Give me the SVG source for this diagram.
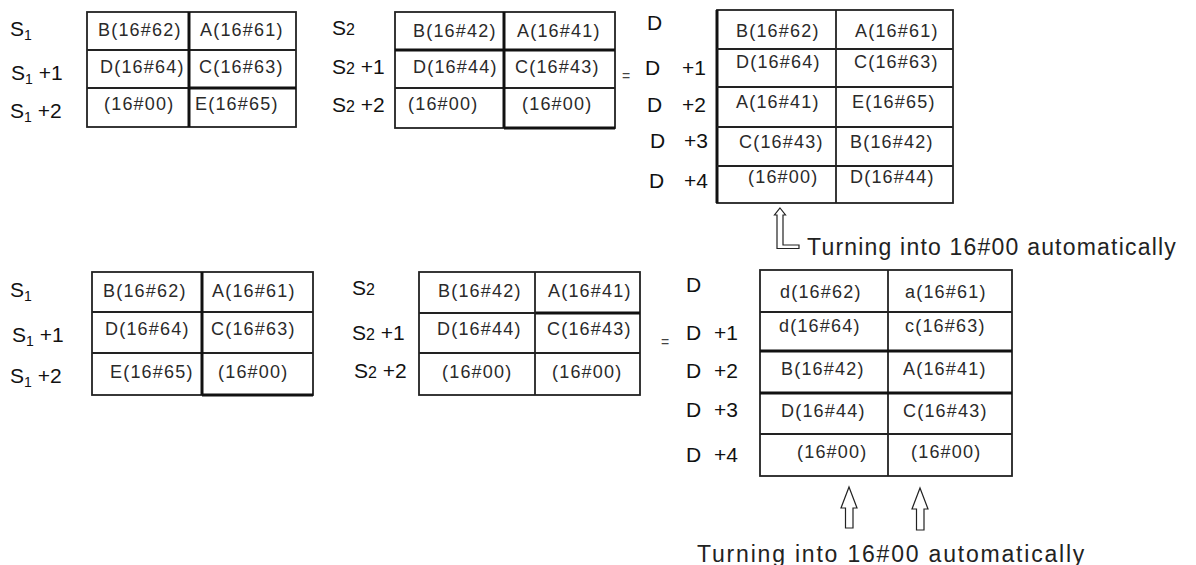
<svg xmlns="http://www.w3.org/2000/svg" width="1196" height="565" viewBox="0 0 1196 565">
<style>
.bg{fill:#fff}
.ln{stroke:#222;stroke-width:1.8;fill:none}
.tk{stroke:#111;stroke-width:3;fill:none}
.cell{font-family:"Liberation Sans",Arial,sans-serif;font-size:18px;letter-spacing:1.2px;fill:#2a2a2a}
.lbl{font-family:"Liberation Sans",Arial,sans-serif;font-size:21px;fill:#111}
.sub{font-size:14px}
.sm{font-size:16px}
.eq{font-family:"Liberation Sans",Arial,sans-serif;font-size:14px;fill:#444}
.note{font-family:"Liberation Sans",Arial,sans-serif;font-size:23px;fill:#222}
.arr{fill:#fff;stroke:#222;stroke-width:1.2}
</style>
<rect class="bg" width="1196" height="565"/>

<!-- Top S1 -->
<g id="top-s1">
<rect class="ln" x="87" y="12" width="209" height="115"/>
<line class="ln" x1="87" y1="50" x2="296" y2="50"/>
<line class="ln" x1="87" y1="88" x2="189" y2="88"/>
<line class="tk" x1="189" y1="88" x2="296" y2="88"/>
<line class="tk" x1="189" y1="12" x2="189" y2="127"/>
<text class="lbl" x="10" y="36">S<tspan class="sub" dy="4">1</tspan></text>
<text class="lbl" x="11" y="80">S<tspan class="sub" dy="4">1</tspan><tspan dy="-4"> +1</tspan></text>
<text class="lbl" x="10" y="118">S<tspan class="sub" dy="4">1</tspan><tspan dy="-4"> +2</tspan></text>
<text class="cell" x="98" y="36">B(16#62)</text>
<text class="cell" x="200" y="36">A(16#61)</text>
<text class="cell" x="100" y="73">D(16#64)</text>
<text class="cell" x="199" y="73">C(16#63)</text>
<text class="cell" x="104" y="110">(16#00)</text>
<text class="cell" x="195" y="110">E(16#65)</text>
</g>

<!-- Top S2 -->
<g id="top-s2">
<rect class="ln" x="395" y="12" width="220" height="116"/>
<line class="tk" x1="395" y1="50" x2="615" y2="50"/>
<line class="ln" x1="395" y1="88" x2="615" y2="88"/>
<line class="tk" x1="504" y1="12" x2="504" y2="128"/>
<line class="tk" x1="504" y1="128" x2="615" y2="128"/>
<text class="lbl" x="332" y="35">S<tspan class="sm">2</tspan></text>
<text class="lbl" x="332" y="74">S<tspan class="sm">2</tspan> +1</text>
<text class="lbl" x="332" y="112">S<tspan class="sm">2</tspan> +2</text>
<text class="cell" x="413" y="37">B(16#42)</text>
<text class="cell" x="517" y="37">A(16#41)</text>
<text class="cell" x="413" y="73">D(16#44)</text>
<text class="cell" x="515" y="73">C(16#43)</text>
<text class="cell" x="408" y="110">(16#00)</text>
<text class="cell" x="522" y="110">(16#00)</text>
<text class="eq" x="622" y="81">=</text>
</g>

<!-- Top D -->
<g id="top-d">
<rect class="ln" x="717" y="10" width="236" height="193"/>
<line class="tk" x1="717" y1="10" x2="717" y2="203"/>
<line class="ln" x1="836" y1="10" x2="836" y2="203"/>
<line class="ln" x1="717" y1="49" x2="953" y2="49"/>
<line class="ln" x1="717" y1="87" x2="953" y2="87"/>
<line class="ln" x1="717" y1="127" x2="953" y2="127"/>
<line class="ln" x1="717" y1="166" x2="953" y2="166"/>
<text class="lbl" x="647" y="30">D</text>
<text class="lbl" x="645" y="75">D</text><text class="lbl" x="682" y="75">+1</text>
<text class="lbl" x="647" y="112">D</text><text class="lbl" x="682" y="112">+2</text>
<text class="lbl" x="650" y="148">D</text><text class="lbl" x="684" y="148">+3</text>
<text class="lbl" x="649" y="188">D</text><text class="lbl" x="684" y="188">+4</text>
<text class="cell" x="736" y="37">B(16#62)</text>
<text class="cell" x="855" y="37">A(16#61)</text>
<text class="cell" x="736" y="68">D(16#64)</text>
<text class="cell" x="854" y="68">C(16#63)</text>
<text class="cell" x="736" y="108">A(16#41)</text>
<text class="cell" x="852" y="108">E(16#65)</text>
<text class="cell" x="739" y="148">C(16#43)</text>
<text class="cell" x="850" y="148">B(16#42)</text>
<text class="cell" x="748" y="183">(16#00)</text>
<text class="cell" x="850" y="183">D(16#44)</text>
</g>

<g id="connectors">
<path class="arr" d="M780,208 L785.5,215 L783,215 L783,245 L799,245 L799,248.5 L777,248.5 L777,215 L774.5,215 Z"/>
<path class="arr" d="M849,487 L857,508 L853,508 L853,528 L845.5,528 L845.5,508 L841,508 Z"/>
<path class="arr" d="M920,488 L928,509 L924,509 L924,530 L916.5,530 L916.5,509 L912,509 Z"/>
</g>
<text class="note" x="807" y="255" letter-spacing="1.2">Turning into 16#00 automatically</text>

<!-- Bottom S1 -->
<g id="bot-s1">
<rect class="ln" x="92" y="272" width="221" height="123"/>
<line class="ln" x1="92" y1="312" x2="313" y2="312"/>
<line class="ln" x1="92" y1="353" x2="313" y2="353"/>
<line class="tk" x1="202" y1="272" x2="202" y2="395"/>
<line class="tk" x1="202" y1="395" x2="313" y2="395"/>
<text class="lbl" x="10" y="297">S<tspan class="sub" dy="4">1</tspan></text>
<text class="lbl" x="12" y="342">S<tspan class="sub" dy="4">1</tspan><tspan dy="-4"> +1</tspan></text>
<text class="lbl" x="10" y="383">S<tspan class="sub" dy="4">1</tspan><tspan dy="-4"> +2</tspan></text>
<text class="cell" x="103" y="297">B(16#62)</text>
<text class="cell" x="212" y="297">A(16#61)</text>
<text class="cell" x="105" y="335">D(16#64)</text>
<text class="cell" x="211" y="335">C(16#63)</text>
<text class="cell" x="110" y="378">E(16#65)</text>
<text class="cell" x="218" y="378">(16#00)</text>
</g>

<!-- Bottom S2 -->
<g id="bot-s2">
<rect class="ln" x="419" y="272" width="221" height="123"/>
<line class="ln" x1="419" y1="313" x2="535" y2="313"/>
<line class="tk" x1="535" y1="313" x2="640" y2="313"/>
<line class="ln" x1="419" y1="353" x2="640" y2="353"/>
<line class="ln" x1="535" y1="272" x2="535" y2="395"/>
<text class="lbl" x="352" y="295">S<tspan class="sm">2</tspan></text>
<text class="lbl" x="352" y="340">S<tspan class="sm">2</tspan> +1</text>
<text class="lbl" x="354" y="378">S<tspan class="sm">2</tspan> +2</text>
<text class="cell" x="438" y="297">B(16#42)</text>
<text class="cell" x="548" y="297">A(16#41)</text>
<text class="cell" x="437" y="335">D(16#44)</text>
<text class="cell" x="547" y="335">C(16#43)</text>
<text class="cell" x="442" y="378">(16#00)</text>
<text class="cell" x="552" y="378">(16#00)</text>
<text class="eq" x="661" y="347">=</text>
</g>

<!-- Bottom D -->
<g id="bot-d">
<rect class="ln" x="760" y="270" width="252" height="206"/>
<line class="ln" x1="888" y1="270" x2="888" y2="476"/>
<line class="ln" x1="760" y1="312" x2="1012" y2="312"/>
<line class="tk" x1="760" y1="351" x2="1012" y2="351"/>
<line class="tk" x1="760" y1="393" x2="1012" y2="393"/>
<line class="ln" x1="760" y1="434" x2="1012" y2="434"/>
<text class="lbl" x="686" y="292">D</text>
<text class="lbl" x="686" y="340">D</text><text class="lbl" x="714" y="340">+1</text>
<text class="lbl" x="686" y="378">D</text><text class="lbl" x="714" y="378">+2</text>
<text class="lbl" x="686" y="417">D</text><text class="lbl" x="714" y="417">+3</text>
<text class="lbl" x="686" y="462">D</text><text class="lbl" x="714" y="462">+4</text>
<text class="cell" x="780" y="298">d(16#62)</text>
<text class="cell" x="905" y="298">a(16#61)</text>
<text class="cell" x="779" y="332">d(16#64)</text>
<text class="cell" x="905" y="332">c(16#63)</text>
<text class="cell" x="781" y="375">B(16#42)</text>
<text class="cell" x="903" y="375">A(16#41)</text>
<text class="cell" x="781" y="417">D(16#44)</text>
<text class="cell" x="903" y="417">C(16#43)</text>
<text class="cell" x="797" y="458">(16#00)</text>
<text class="cell" x="911" y="458">(16#00)</text>
</g>
<text class="note" x="697" y="562" letter-spacing="1.8">Turning into 16#00 automatically</text>
</svg>
